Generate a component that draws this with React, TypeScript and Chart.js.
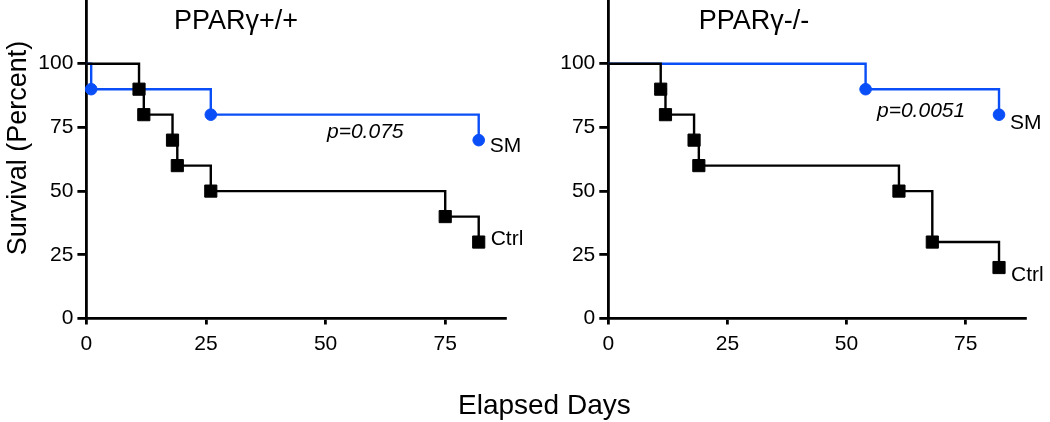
import React, { useEffect, useRef } from "react";
import { Chart, registerables } from "chart.js";

Chart.register(...registerables);

// ---- data ----
const leftCtrlDays = [0, 11, 12, 18, 19, 26, 75, 82];
const leftCtrlSurvival = [100, 90, 80, 70, 60, 50, 40, 30];
const leftSmDays = [0, 1, 26, 82];
const leftSmSurvival = [100, 90, 80, 70];

const rightCtrlDays = [0, 11, 12, 18, 19, 61, 68, 82];
const rightCtrlSurvival = [100, 90, 80, 70, 60, 50, 30, 20];
const rightSmDays = [0, 54, 82];
const rightSmSurvival = [100, 90, 80];

const yTicks = [0, 25, 50, 75, 100];
const xTicks = [0, 25, 50, 75];
const panelTitles = ["PPARγ+/+", "PPARγ-/-"];
const pValues = ["p=0.075", "p=0.0051"];
const groupLabels = ["Ctrl", "SM"];
const xAxisTitle = "Elapsed Days";
const yAxisTitle = "Survival (Percent)";

// ---- styling ----
const W = 1050;
const H = 422;
const FONT = '"Liberation Sans", Arial, Helvetica, sans-serif';
const BLUE = "#0a4ef8";
const BLACK = "#000000";

type TextItem = {
  text: string;
  font: string;
  color?: string;
  align?: CanvasTextAlign;
  px?: number;
  py?: number;
  dataX?: number;
  dataY?: number;
  dx?: number;
  dy?: number;
  rotate?: number;
};

function makeTextPlugin(id: string, items: TextItem[]) {
  return {
    id,
    afterDraw(chart: any) {
      const ctx = chart.ctx as CanvasRenderingContext2D;
      for (const t of items) {
        ctx.save();
        ctx.font = t.font;
        ctx.fillStyle = t.color || BLACK;
        ctx.textAlign = t.align || "left";
        ctx.textBaseline = "alphabetic";
        let x = t.px ?? 0;
        let y = t.py ?? 0;
        if (t.dataX !== undefined && t.dataY !== undefined) {
          x = chart.scales.x.getPixelForValue(t.dataX) + (t.dx || 0);
          y = chart.scales.y.getPixelForValue(t.dataY) + (t.dy || 0);
        }
        ctx.translate(x, y);
        if (t.rotate) ctx.rotate(t.rotate);
        ctx.fillText(t.text, 0, 0);
        ctx.restore();
      }
    },
  };
}

function toPoints(xs: number[], ys: number[]) {
  return xs.map((x, i) => ({ x, y: ys[i] }));
}

function makeDataset(label: string, xs: number[], ys: number[], color: string, style: "rect" | "circle") {
  return {
    label,
    data: toPoints(xs, ys),
    borderColor: color,
    backgroundColor: color,
    borderWidth: 2.4,
    stepped: true as const,
    pointStyle: style,
    pointRadius: xs.map((_, i) => (i === 0 ? 0 : style === "rect" ? 8.6 : 5.8)),
    pointBorderWidth: 1,
    pointBackgroundColor: color,
    pointBorderColor: color,
    clip: false as const,
  };
}

function makeConfig(
  ctrl: { xs: number[]; ys: number[] },
  sm: { xs: number[]; ys: number[] },
  padLeft: number,
  padRight: number,
  texts: TextItem[],
  pluginId: string
) {
  const axisFont = { family: FONT, size: 21 };
  return {
    type: "line" as const,
    data: {
      datasets: [
        makeDataset(groupLabels[0], ctrl.xs, ctrl.ys, BLACK, "rect"),
        makeDataset(groupLabels[1], sm.xs, sm.ys, BLUE, "circle"),
      ],
    },
    options: {
      responsive: false,
      animation: false as const,
      events: [],
      layout: { autoPadding: false, padding: { left: padLeft, right: padRight, top: 0, bottom: 0 } },
      plugins: {
        legend: { display: false },
        tooltip: { enabled: false },
        title: { display: false },
      },
      scales: {
        x: {
          type: "linear" as const,
          min: 0,
          max: 87.6,
          afterBuildTicks: (scale: any) => {
            scale.ticks = xTicks.map((v) => ({ value: v }));
          },
          afterFit: (scale: any) => {
            scale.height = H - 318.5;
            scale.paddingLeft = 0;
            scale.paddingRight = 0;
          },
          ticks: {
            color: BLACK,
            font: axisFont,
            padding: 7,
            maxRotation: 0,
            autoSkip: false,
          },
          grid: {
            display: true,
            drawOnChartArea: false,
            drawTicks: true,
            tickLength: 6,
            color: BLACK,
            lineWidth: 2.8,
          },
          border: { display: true, color: BLACK, width: 2.8 },
        },
        y: {
          type: "linear" as const,
          min: 0,
          max: 125,
          afterBuildTicks: (scale: any) => {
            scale.ticks = yTicks.map((v) => ({ value: v }));
          },
          afterFit: (scale: any) => {
            scale.width = 86.4;
            scale.paddingTop = 0;
            scale.paddingBottom = 0;
          },
          ticks: {
            color: BLACK,
            font: axisFont,
            padding: 4,
            autoSkip: false,
          },
          grid: {
            display: true,
            drawOnChartArea: false,
            drawTicks: true,
            tickLength: 9,
            color: BLACK,
            lineWidth: 2.8,
          },
          border: { display: true, color: BLACK, width: 2.8 },
        },
      },
    },
    plugins: [makeTextPlugin(pluginId, texts)],
  };
}

export default function App() {
  const leftRef = useRef<HTMLCanvasElement | null>(null);
  const rightRef = useRef<HTMLCanvasElement | null>(null);

  useEffect(() => {
    const labelFont = `21px ${FONT}`;
    const pFont = `italic 21px ${FONT}`;
    const titleFont = `27px ${FONT}`;
    const bigFont = `28px ${FONT}`;

    const leftTexts: TextItem[] = [
      { text: panelTitles[0], font: titleFont, align: "center", px: 236, py: 29 },
      { text: pValues[0], font: pFont, align: "left", px: 327, py: 138 },
      {
        text: groupLabels[1],
        font: labelFont,
        dataX: leftSmDays[leftSmDays.length - 1],
        dataY: leftSmSurvival[leftSmSurvival.length - 1],
        dx: 11,
        dy: 11.5,
      },
      {
        text: groupLabels[0],
        font: labelFont,
        dataX: leftCtrlDays[leftCtrlDays.length - 1],
        dataY: leftCtrlSurvival[leftCtrlSurvival.length - 1],
        dx: 12,
        dy: 3,
      },
      { text: yAxisTitle, font: `27px ${FONT}`, align: "center", px: 26, py: 148, rotate: -Math.PI / 2 },
      { text: xAxisTitle, font: bigFont, align: "left", px: 458, py: 414 },
    ];

    const rightTexts: TextItem[] = [
      { text: panelTitles[1], font: titleFont, align: "center", px: 754, py: 29 },
      { text: pValues[1], font: pFont, align: "left", px: 877, py: 116.5 },
      {
        text: groupLabels[1],
        font: labelFont,
        dataX: rightSmDays[rightSmDays.length - 1],
        dataY: rightSmSurvival[rightSmSurvival.length - 1],
        dx: 11,
        dy: 14,
      },
      {
        text: groupLabels[0],
        font: labelFont,
        dataX: rightCtrlDays[rightCtrlDays.length - 1],
        dataY: rightCtrlSurvival[rightCtrlSurvival.length - 1],
        dx: 12,
        dy: 13,
      },
    ];

    const left = new Chart(
      leftRef.current as HTMLCanvasElement,
      makeConfig(
        { xs: leftCtrlDays, ys: leftCtrlSurvival },
        { xs: leftSmDays, ys: leftSmSurvival },
        0,
        W - 505.5,
        leftTexts,
        "leftTexts"
      ) as any
    );
    const right = new Chart(
      rightRef.current as HTMLCanvasElement,
      makeConfig(
        { xs: rightCtrlDays, ys: rightCtrlSurvival },
        { xs: rightSmDays, ys: rightSmSurvival },
        608.3 - 86.4,
        W - 1025.7,
        rightTexts,
        "rightTexts"
      ) as any
    );
    return () => {
      left.destroy();
      right.destroy();
    };
  }, []);

  const canvasStyle: React.CSSProperties = {
    position: "absolute",
    left: 0,
    top: 0,
    width: W,
    height: H,
  };

  return (
    <div
      style={{
        position: "fixed",
        left: 0,
        top: 0,
        width: W,
        height: H,
        background: "#ffffff",
        overflow: "hidden",
      }}
    >
      <canvas ref={leftRef} width={W} height={H} style={canvasStyle} />
      <canvas ref={rightRef} width={W} height={H} style={canvasStyle} />
    </div>
  );
}
